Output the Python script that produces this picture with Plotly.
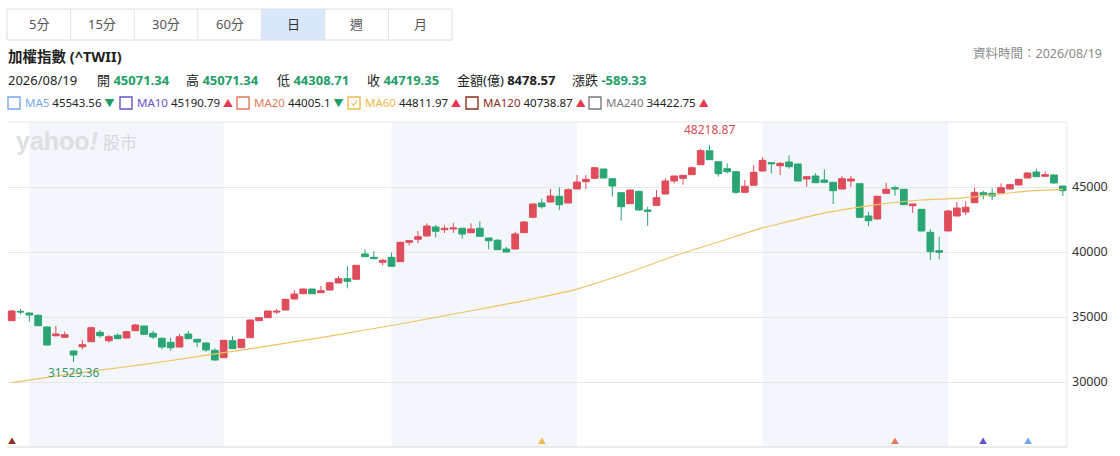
import plotly.graph_objects as go

# ---------------- data ----------------
day_idx = list(range(120))

opens = [34716, 35430, 35308, 35131, 34231, 33562, 33438, 32385, 32715, 33100,
         33823, 33177, 33592, 33385, 33946, 34308, 33746, 33362, 33054, 32692,
         33692, 33285, 33000, 32438, 31869, 33177, 32638, 33408, 34716, 34946,
         35380, 35538, 36385, 36792, 37154, 36869, 37077, 37615, 37946, 37900,
         39846, 39592, 39208, 39592, 39254, 40746, 40977, 41231, 41923, 41715,
         41769, 41823, 41485, 41823, 41077, 40900, 40231, 40231, 41485, 42669,
         43769, 43846, 44285, 43769, 44846, 45408, 45669, 46385, 45638, 44562,
         43715, 44669, 43231, 43592, 44462, 45462, 45669, 45946, 46715, 47792,
         46946, 46408, 46177, 44592, 45131, 46231, 46869, 46638, 46923, 46769,
         45615, 45846, 45538, 45362, 44846, 45462, 45254, 42769, 42538, 44515,
         44946, 44823, 43562, 43285, 41515, 40100, 41615, 42769, 43077, 43792,
         44562, 44515, 44538, 44846, 45154, 45692, 46154, 45823, 45923, 45071.34]

highs = [35540, 35615, 35330, 35208, 34280, 34308, 33869, 32420, 33231, 34250,
         34000, 33615, 33746, 33950, 34460, 34330, 33946, 33400, 33408, 33692,
         33923, 33310, 33030, 32592, 33230, 33515, 33300, 34790, 34970, 35480,
         35615, 36400, 37077, 37180, 37170, 37385, 37700, 38154, 38923, 39000,
         40208, 40054, 39485, 39946, 40780, 40923, 41615, 42208, 42077, 42054,
         42254, 41860, 42208, 42362, 41100, 41000, 40385, 41562, 42385, 43720,
         44100, 44846, 44977, 44900, 45923, 45923, 46562, 46410, 45660, 44590,
         44790, 44700, 43485, 44769, 45669, 45870, 45920, 46560, 47946, 48218.87,
         46970, 46823, 46200, 45538, 46692, 47285, 46900, 46900, 47438, 46790,
         45820, 46054, 46362, 45390, 45846, 45846, 45280, 43077, 44310, 45331,
         45100, 44850, 43720, 43310, 41746, 41177, 43250, 43846, 43900, 44946,
         44715, 44900, 45285, 45230, 45620, 46140, 46408, 46208, 45950, 45071.34]

lows = [34700, 35208, 34638, 34300, 32820, 33485, 33400, 31529.36, 32515, 33080,
        33408, 33023, 33300, 33370, 33930, 33640, 33308, 32515, 32408, 32670,
        33300, 32669, 32331, 31650, 31850, 32540, 32620, 33390, 34700, 34930,
        35231, 35520, 36370, 36780, 36780, 36850, 37060, 37600, 37208, 37880,
        39620, 39470, 38977, 38880, 39230, 40515, 40669, 41210, 41131, 41462,
        41462, 41023, 41460, 41190, 40208, 40150, 39980, 40210, 41460, 42650,
        43331, 43820, 43231, 43750, 44830, 44846, 45650, 45670, 44254, 42408,
        43700, 43210, 42000, 43570, 44440, 45285, 45177, 45930, 46700, 47080,
        45792, 46054, 44462, 44570, 45110, 46210, 46054, 45923, 46408, 45440,
        45023, 45310, 45285, 43692, 44820, 45023, 42640, 42000, 42510, 44490,
        44331, 43610, 43000, 41590, 39385, 39438, 41590, 42750, 42846, 43770,
        44054, 44000, 44520, 44830, 45140, 45680, 45780, 45800, 45260, 44308.71]

closes = [35462, 35390, 35154, 34331, 32846, 33692, 33638, 32077, 32869, 34177,
          33562, 33485, 33331, 33869, 34385, 33669, 33462, 32692, 32638, 33485,
          33331, 33077, 32462, 31692, 33208, 32562, 33285, 34769, 34946, 35462,
          35440, 36362, 36769, 37154, 36792, 37023, 37638, 37946, 37746, 38977,
          39638, 39485, 39362, 38900, 40746, 40869, 41177, 42000, 41592, 41823,
          41846, 41385, 41769, 41208, 40869, 40177, 40000, 41385, 42308, 43692,
          43485, 44308, 43638, 44792, 45385, 45592, 46485, 45692, 45077, 43485,
          44769, 43231, 43131, 44177, 45462, 45846, 45900, 46485, 47792, 47100,
          46023, 46177, 44592, 45054, 46131, 47054, 46792, 46823, 46562, 45462,
          45792, 45331, 45362, 44715, 45638, 45615, 42669, 42408, 44285, 44823,
          44846, 43638, 43692, 41615, 40023, 39977, 43154, 43385, 43438, 44592,
          44408, 44308, 44946, 45177, 45592, 46077, 45792, 45946, 45308.68, 44719.35]

ma60_idx = [0, 5, 10, 15, 20, 25, 30, 35, 40, 44, 50, 55, 60, 64, 70, 75,
            80, 85, 88, 91, 95, 98, 103, 107, 110, 115, 119]
ma60_val = [29950, 30450, 30920, 31350, 31850, 32350, 32870, 33420, 34000, 34460,
            35230, 35850, 36540, 37150, 38460, 39690, 40770, 41850, 42350, 42850,
            43350, 43650, 44000, 44120, 44310, 44690, 44811.97]

month_starts = [2, 24, 43, 64, 85, 106]          # trading-day index where each month begins
signal_idx = [0, 60, 100, 110, 115]
signal_ma = ["MA120", "MA60", "MA20", "MA10", "MA5"]

y_ticks = [30000, 35000, 40000, 45000]

buttons = ["5分", "15分", "30分", "60分", "日", "週", "月"]
selected_button = "日"

title_text = "加權指數 (^TWII)"
quote_date = "2026/08/19"
quote_labels = ["開", "高", "低", "收"]
quote_values = ["45071.34", "45071.34", "44308.71", "44719.35"]
amount_label, amount_value = "金額(億)", "8478.57"
change_label, change_value = "漲跌", "-589.33"
data_time = "資料時間：2026/08/19"

ma_names = ["MA5", "MA10", "MA20", "MA60", "MA120", "MA240"]
ma_values = ["45543.56", "45190.79", "44005.1", "44811.97", "40738.87", "34422.75"]
ma_dirs = ["down", "up", "down", "up", "up", "up"]
high_label = "48218.87"
low_label = "31529.36"

# ---------------- style ----------------
FONT = "Noto Sans, Noto Sans CJK TC, sans-serif"
UP = "#df4c5a"
DOWN = "#2aa674"
GREEN_TXT = "#1f9e68"
RED_TRI = "#e8384f"
MA_COLORS = {"MA5": "#74a8ee", "MA10": "#6a50d0", "MA20": "#e57a55",
             "MA60": "#eebb4a", "MA120": "#8c2e1c", "MA240": "#7a7a7a"}
GRID = "#e7e7e7"
BAND = "#f3f6fa"

L, R, T, B = 7, 1067, 122, 447
W, H = 1120, 456


def px(x):
    return (x - L) / (R - L)


def py(y):
    return (B - y) / (B - T)


def ann(x, y, text, size=13, color="#333", xanchor="left", yanchor="middle", family=FONT):
    return dict(xref="paper", yref="paper", x=px(x), y=py(y), text=text,
                showarrow=False, xanchor=xanchor, yanchor=yanchor,
                font=dict(size=size, color=color, family=family))


fig = go.Figure()

fig.add_trace(go.Candlestick(
    x=day_idx, open=opens, high=highs, low=lows, close=closes,
    increasing=dict(line=dict(color=UP, width=1), fillcolor=UP),
    decreasing=dict(line=dict(color=DOWN, width=1), fillcolor=DOWN),
    whiskerwidth=0, showlegend=False, hoverinfo="skip",
))

fig.add_trace(go.Scatter(
    x=ma60_idx, y=ma60_val, mode="lines",
    line=dict(color="#f0c262", width=1.2, shape="spline", smoothing=0.6),
    showlegend=False, hoverinfo="skip",
))

shapes = []
annotations = []

# month shading bands (alternate months)
for k in range(0, len(month_starts) - 1, 2):
    shapes.append(dict(type="rect", xref="x", yref="paper",
                       x0=month_starts[k], x1=month_starts[k + 1], y0=0, y1=1,
                       fillcolor=BAND, line=dict(width=0), layer="below"))

# top / bottom / right frame lines
shapes.append(dict(type="line", xref="paper", yref="paper", x0=0, x1=1, y0=1, y1=1,
                   line=dict(color=GRID, width=1)))
shapes.append(dict(type="line", xref="paper", yref="paper", x0=0, x1=1, y0=0, y1=0,
                   line=dict(color="#dadada", width=1)))
shapes.append(dict(type="line", xref="paper", yref="paper", x0=1, x1=1, y0=0, y1=1,
                   line=dict(color=GRID, width=1)))

# ---- interval buttons ----
bx0, bx1, by0, by1 = 7, 452, 9, 40
bw = (bx1 - bx0) / len(buttons)
for i, b in enumerate(buttons):
    x0 = bx0 + i * bw
    if b == selected_button:
        shapes.append(dict(type="rect", xref="paper", yref="paper",
                           x0=px(x0), x1=px(x0 + bw), y0=py(by1), y1=py(by0),
                           fillcolor="#d9e9fb", line=dict(width=0)))
    if i > 0:
        shapes.append(dict(type="line", xref="paper", yref="paper",
                           x0=px(x0), x1=px(x0), y0=py(by1), y1=py(by0),
                           line=dict(color="#e2e2e2", width=1)))
    annotations.append(ann(x0 + bw / 2, 24.5, b, size=13,
                           color="#333" if b == selected_button else "#555",
                           xanchor="center"))
shapes.append(dict(type="rect", xref="paper", yref="paper",
                   x0=px(bx0), x1=px(bx1), y0=py(by1), y1=py(by0),
                   line=dict(color="#dedede", width=1), fillcolor="rgba(0,0,0,0)"))

# ---- title & quote row ----
annotations.append(ann(6, 56, "<b>" + title_text + "</b>", size=14.5, color="#222"))
annotations.append(ann(1104, 54, data_time, size=12.5, color="#8a8a8a", xanchor="right"))

annotations.append(ann(6, 80, quote_date, size=13, color="#222"))
q_label_x = [95, 184, 275, 365]
for lx, lab, val in zip(q_label_x, quote_labels, quote_values):
    annotations.append(ann(lx, 80, lab + " <b><span style='color:%s'>%s</span></b>" % (GREEN_TXT, val),
                           size=13, color="#222"))
annotations.append(ann(455, 80, amount_label + " <b>" + amount_value + "</b>", size=13, color="#222"))
annotations.append(ann(570, 80, change_label + " <b><span style='color:%s'>%s</span></b>" % (GREEN_TXT, change_value),
                       size=13, color="#222"))

# ---- MA legend row ----
box_x = [8, 120, 237, 348, 466, 589]
for bxl, name, val, d in zip(box_x, ma_names, ma_values, ma_dirs):
    c = MA_COLORS[name]
    shapes.append(dict(type="rect", xref="paper", yref="paper",
                       x0=px(bxl), x1=px(bxl + 12), y0=py(109), y1=py(97),
                       line=dict(color=c, width=1.4), fillcolor="white"))
    if name == "MA60":
        shapes.append(dict(type="path", xref="paper", yref="paper",
                           path="M %f %f L %f %f L %f %f" % (px(bxl + 3.5), py(103), px(bxl + 5.5), py(105.5),
                                                          px(bxl + 9), py(100.5)),
                           line=dict(color=c, width=1.2)))
    tri = "▲" if d == "up" else "▼"
    tc = RED_TRI if d == "up" else GREEN_TXT
    txt = ("<span style='color:%s'>%s</span> %s <span style='color:%s;font-size:10px'>%s</span>"
           % (c, name, val, tc, tri))
    annotations.append(ann(bxl + 15, 103, txt, size=11.5, color="#222"))

# ---- watermark ----
annotations.append(ann(14, 141, "<b>yahoo<i>!</i></b>", size=25, color="#dcdfe3",
                       family="Liberation Sans, Arial, sans-serif"))
annotations.append(ann(101, 142, "股市", size=17, color="#d5d8dd"))

# ---- high / low labels ----
hi_i = highs.index(max(highs))
lo_i = lows.index(min(lows))
annotations.append(dict(x=day_idx[hi_i], y=highs[hi_i], xref="x", yref="y", text=high_label,
                        showarrow=False, yanchor="bottom", yshift=5,
                        font=dict(size=12, color="#d84a55", family=FONT)))
annotations.append(dict(x=day_idx[lo_i], y=lows[lo_i], xref="x", yref="y", text=low_label,
                        showarrow=False, yanchor="top", yshift=0,
                        font=dict(size=12, color="#3a9a6c", family=FONT)))

# ---- crossover signal markers along the bottom ----
for si, sm in zip(signal_idx, signal_ma):
    annotations.append(dict(x=day_idx[si], y=0, xref="x", yref="paper", text="▲",
                            showarrow=False, yanchor="bottom", yshift=-1,
                            font=dict(size=8, color=MA_COLORS[sm], family=FONT)))

fig.update_layout(
    width=W, height=H,
    margin=dict(l=L, r=W - R, t=T, b=H - B, pad=0),
    paper_bgcolor="white", plot_bgcolor="white",
    font=dict(family=FONT, size=12, color="#333"),
    showlegend=False,
    boxgap=0.24, boxgroupgap=0,
    xaxis=dict(range=[-0.53, 119.47], showgrid=False, zeroline=False, showticklabels=False,
               showline=False, ticks="", rangeslider=dict(visible=False), fixedrange=True),
    yaxis=dict(range=[25000, 50000], side="right", tickvals=y_ticks,
               ticktext=[str(v) for v in y_ticks], showgrid=True, gridcolor=GRID, gridwidth=1,
               zeroline=False, showline=False, ticks="", ticklabelstandoff=4,
               tickfont=dict(size=12.5, color="#333", family=FONT), fixedrange=True),
    shapes=shapes, annotations=annotations,
)

fig.write_html("out.html", config={"displayModeBar": False},
               post_script="document.body.style.margin='0';")
